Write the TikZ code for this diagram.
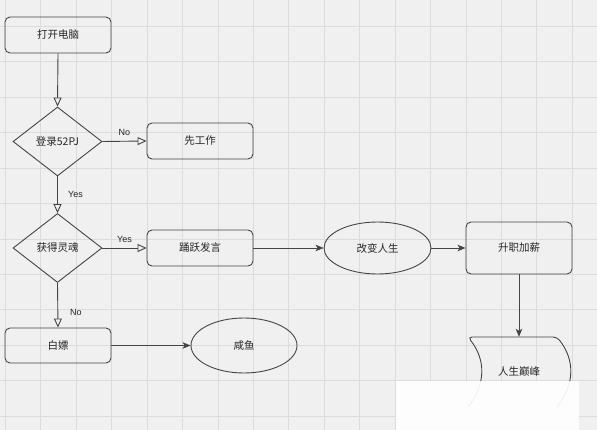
\documentclass[tikz,border=0pt]{standalone}
\usepackage{fontspec}
\setmainfont{Noto Sans CJK SC}
\newfontfamily\labfont{Liberation Sans}
\usetikzlibrary{shapes.geometric,arrows.meta}
\definecolor{bgc}{HTML}{F0F0F0}
\definecolor{gridc}{HTML}{DCDCDC}
\definecolor{linec}{HTML}{454545}
\definecolor{textc}{HTML}{262626}
\tikzset{
  boxnode/.style={draw=linec, line width=0.9pt, rounded corners=5pt, minimum width=106pt, minimum height=36pt, inner sep=0pt, font=\fontsize{10.5}{12}\selectfont, text=textc},
  dianode/.style={draw=linec, line width=0.9pt, diamond, minimum width=89pt, minimum height=69pt, inner sep=0pt, font=\fontsize{10.5}{12}\selectfont, text=textc},
  ellnode/.style={draw=linec, line width=0.9pt, ellipse, minimum width=106pt, minimum height=53pt, inner sep=0pt, font=\fontsize{10.5}{12}\selectfont, text=textc},
  plainnode/.style={inner sep=0pt, font=\fontsize{10.5}{12}\selectfont, text=textc},
  openarrow/.style={draw=linec, line width=0.9pt, -{Triangle[open, length=9pt, width=8pt, fill=bgc]}},
  fillarrow/.style={draw=linec, line width=0.9pt, -{Stealth[length=8pt, width=6.5pt, inset=2pt]}},
  lab/.style={font=\labfont\fontsize{9}{10}\selectfont, text=textc, inner sep=0pt}
}
\begin{document}
\begin{tikzpicture}[x=1pt,y=-1pt]
\fill[bgc] (0,0) rectangle (597,430);
\useasboundingbox (0,0) rectangle (597,430);
% grid
\foreach \k in {0,...,16} {
  \draw[gridc, line width=0.8pt] ({5.26+35.44*\k},0) -- ({5.26+35.44*\k},430);
}
\foreach \k in {0,...,11} {
  \draw[gridc, line width=0.8pt] (0,{26.3+35.44*\k}) -- (597,{26.3+35.44*\k});
}
% nodes
\node[boxnode] (n1) at (58,35) {打开电脑};
\node[dianode] (d1) at (57.5,141.5) {登录52PJ};
\node[boxnode] (w1) at (200,141) {先工作};
\node[dianode] (d2) at (57.5,248) {获得灵魂};
\node[boxnode] (b2) at (200,248) {踊跃发言};
\node[ellnode, minimum width=107pt, minimum height=52pt] (e1) at (377.5,248) {改变人生};
\node[boxnode, minimum height=52pt] (b3) at (519,248) {升职加薪};
\node[boxnode, minimum height=35pt] (b4) at (58,345.5) {白嫖};
\node[ellnode, minimum height=55pt] (e2) at (244,345.5) {咸鱼};
% peak shape
\node[plainnode, minimum width=89pt, minimum height=70pt] (pk) at (519,372) {人生巅峰};
\draw[linec, line width=0.9pt, rounded corners=4pt]
  (468,407) .. controls (486,384) and (486,360) .. (468,337)
  -- (557,337) .. controls (575,360) and (575,384) .. (557,407);
% connectors
\draw[openarrow] (n1.south) -- (d1.north);
\draw[openarrow] (d1.east) -- (w1.west);
\draw[openarrow] (d1.south) -- (d2.north);
\draw[openarrow] (d2.east) -- (b2.west);
\draw[openarrow] (d2.south) -- (b4.north);
\draw[fillarrow] (b4.east) -- (e2.west);
\draw[fillarrow] (b2.east) -- (e1.west);
\draw[fillarrow] (e1.east) -- (b3.west);
\draw[fillarrow] (b3.south) -- (pk.north);
% labels
\node[lab] (l1) at (124.5,132.5) {No};
\node[lab] (l2) at (75.5,194.5) {Yes};
\node[lab] (l3) at (124.5,239.5) {Yes};
\node[lab] (l4) at (76,312.5) {No};
% watermark blur
\fill[white, opacity=0.92] (396,381) rectangle (579,430);
\end{tikzpicture}
\end{document}
